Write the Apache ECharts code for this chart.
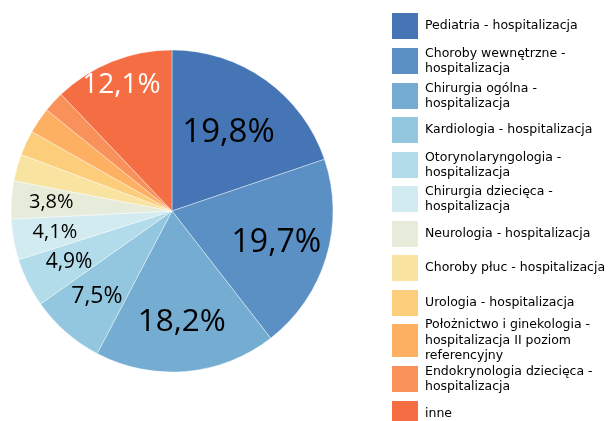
<!DOCTYPE html>
<html>
<head>
<meta charset="utf-8">
<script src="https://cdn.jsdelivr.net/npm/echarts@6/dist/echarts.min.js"></script>
<style>
html,body{margin:0;padding:0;background:#fff;}
#chart{width:611px;height:421px;}
</style>
</head>
<body>
<div id="chart"></div>
<script>
// ---- data ----
const categories = [
  'Pediatria - hospitalizacja',
  'Choroby wewnętrzne - hospitalizacja',
  'Chirurgia ogólna - hospitalizacja',
  'Kardiologia - hospitalizacja',
  'Otorynolaryngologia - hospitalizacja',
  'Chirurgia dziecięca - hospitalizacja',
  'Neurologia - hospitalizacja',
  'Choroby płuc - hospitalizacja',
  'Urologia - hospitalizacja',
  'Położnictwo i ginekologia - hospitalizacja II poziom referencyjny',
  'Endokrynologia dziecięca - hospitalizacja',
  'inne'
];
const values = [19.8, 19.7, 18.2, 7.5, 4.9, 4.1, 3.8, 2.7, 2.5, 2.6, 2.1, 12.1];
const legendLabels = [
  'Pediatria - hospitalizacja',
  'Choroby wewnętrzne -\nhospitalizacja',
  'Chirurgia ogólna -\nhospitalizacja',
  'Kardiologia - hospitalizacja',
  'Otorynolaryngologia -\nhospitalizacja',
  'Chirurgia dziecięca -\nhospitalizacja',
  'Neurologia - hospitalizacja',
  'Choroby płuc - hospitalizacja',
  'Urologia - hospitalizacja',
  'Położnictwo i ginekologia -\nhospitalizacja II poziom\nreferencyjny',
  'Endokrynologia dziecięca -\nhospitalizacja',
  'inne'
];

// ---- styles / layout ----
const colors = ['#4575b4','#5b90c5','#74add1','#93c6df','#b2dcea','#d2ebf1','#e7ecda','#f8e3a1','#fccd7b','#fdb062','#f8915a','#f46d43'];
const labelFontSize = [33, 32, 31.5, 23, 21, 20, 20, 0, 0, 0, 0, 28];
const labelRadius   = [94, 106, 108, 111, 112, 116, 118, 0, 0, 0, 0, 133];
const labelColor    = ['#000','#000','#000','#000','#000','#000','#000','#000','#000','#000','#000','#fff'];
const legendTop     = [13, 48, 83, 117, 152, 186, 221, 255, 290, 324, 366, 401];
const legendSwatchH = [26, 26, 26, 26, 26, 26, 26, 26, 26, 33, 26, 26];
const CENTER = [172, 211];
const R = 161;
const FONT = '"Open Sans", "Noto Sans", sans-serif';
const LEGEND_FONT = '"DejaVu Sans", sans-serif';
const LEGEND_FS = 12.5;
const LEGEND_LH = 15.5;

function fmt(v){ return v.toFixed(1).replace('.', ',') + '%'; }

const series = [{
  type: 'pie',
  name: 'main',
  center: CENTER,
  radius: [0, R],
  startAngle: 90,
  clockwise: true,
  avoidLabelOverlap: false,
  label: { show: false },
  labelLine: { show: false },
  itemStyle: { borderColor: '#fff', borderWidth: 0.4 },
  emphasis: { disabled: true },
  data: categories.map((c, i) => ({ name: c, value: values[i], itemStyle: { color: colors[i] } }))
}];

values.forEach((v, idx) => {
  if (!labelFontSize[idx]) return;
  series.push({
    type: 'pie',
    name: 'label' + idx,
    center: CENTER,
    radius: [0, labelRadius[idx] * 2],
    startAngle: 90,
    clockwise: true,
    silent: true,
    z: 5,
    avoidLabelOverlap: false,
    labelLine: { show: false },
    emphasis: { disabled: true },
    itemStyle: { color: 'rgba(0,0,0,0)' },
    data: categories.map((c, i) => ({
      name: c,
      value: values[i],
      label: {
        show: i === idx,
        position: 'inside',
        formatter: fmt(values[i]),
        fontSize: labelFontSize[idx],
        fontFamily: FONT,
        color: labelColor[idx]
      }
    }))
  });
});

const legends = categories.map((c, i) => {
  const lines = legendLabels[i].split('\n').length;
  const textH = lines * LEGEND_LH;
  const over = Math.max(0, (textH - legendSwatchH[i]) / 2);
  return {
    orient: 'vertical',
    left: 392,
    top: legendTop[i] - over,
    itemWidth: 26,
    itemHeight: legendSwatchH[i],
    itemGap: 0,
    icon: 'rect',
    data: [c],
    selectedMode: false,
    formatter: function () { return legendLabels[i]; },
    textStyle: { fontSize: LEGEND_FS, fontFamily: LEGEND_FONT, color: '#000', lineHeight: LEGEND_LH, padding: [0,0,0,2] },
    itemStyle: { borderWidth: 0, color: colors[i] },
    padding: 0
  };
});

const chart = echarts.init(document.getElementById('chart'), null, { renderer: 'canvas' });
chart.setOption({
  animation: false,
  backgroundColor: '#fff',
  color: colors,
  legend: legends,
  series: series
});
</script>
</body>
</html>
